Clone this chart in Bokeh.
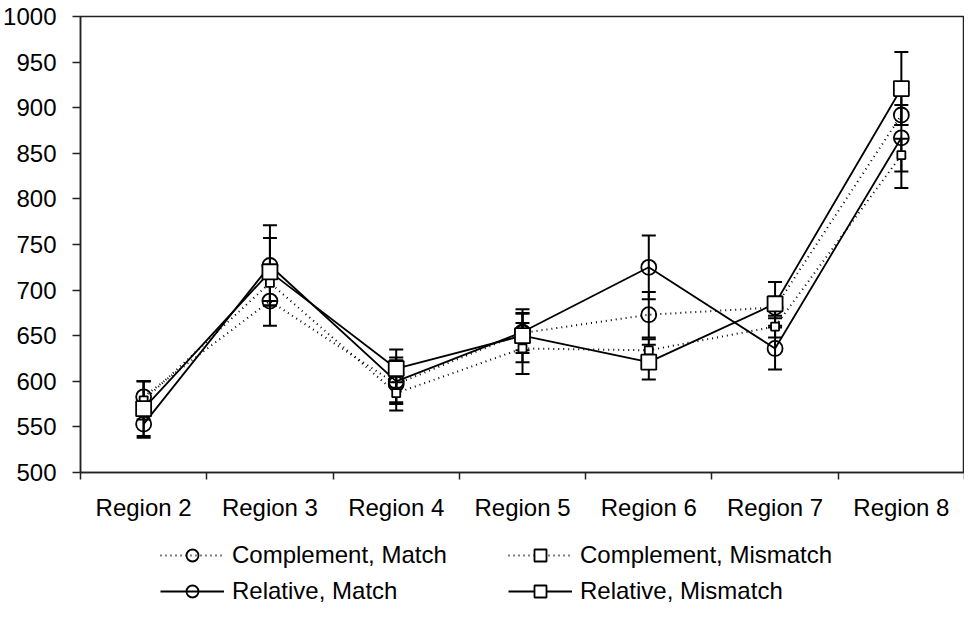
from bokeh.plotting import figure
from bokeh.layouts import column
from bokeh.models import (ColumnDataSource, Whisker, TeeHead, Range1d, FixedTicker,
                          Legend, LegendItem)
from bokeh.embed import file_html
from bokeh.resources import INLINE

regions = ["Region 2", "Region 3", "Region 4", "Region 5", "Region 6", "Region 7", "Region 8"]
y_ticks = [500, 550, 600, 650, 700, 750, 800, 850, 900, 950, 1000]

comp_match = [583, 688, 597, 653, 673, 681, 892]
comp_match_err = [17, 27, 29, 22, 25, 12, 11]
comp_mismatch = [579, 708, 587, 636, 634, 660, 848]
comp_mismatch_err = [21, 20, 12, 28, 12, 12, 18]
rel_match = [553, 727, 600, 654, 725, 636, 867]
rel_match_err = [15, 44, 23, 20, 35, 23, 55]
rel_mismatch = [570, 720, 614, 650, 621, 685, 921]
rel_mismatch_err = [30, 37, 21, 29, 19, 24, 40]

FONT = "Liberation Sans"

p = figure(output_backend="svg", toolbar_location=None,
           width=964, height=530,
           min_border_left=80, min_border_top=16, min_border_right=0,
           min_border_bottom=58,
           x_range=Range1d(0, len(regions)), y_range=Range1d(500, 1000))
p.background_fill_color = "white"
p.border_fill_color = "white"
p.outline_line_color = "#222222"
p.outline_line_width = 1.5
p.xgrid.visible = False
p.ygrid.visible = False

centers = [i + 0.5 for i in range(len(regions))]
bounds = list(range(len(regions) + 1))

xa = p.xaxis[0]
xa.ticker = FixedTicker(ticks=centers, minor_ticks=bounds)
xa.major_label_overrides = {c: r for c, r in zip(centers, regions)}
xa.major_tick_out = 0
xa.major_tick_in = 0
xa.minor_tick_out = 7
xa.minor_tick_in = 0
xa.minor_tick_line_color = "#222222"
xa.minor_tick_line_width = 1.5
xa.axis_line_color = "#222222"
xa.axis_line_width = 1.5
xa.major_label_standoff = 14
xa.major_label_text_font = FONT
xa.major_label_text_font_size = "24px"
xa.major_label_text_color = "black"

ya = p.yaxis[0]
ya.ticker = FixedTicker(ticks=y_ticks)
ya.minor_tick_line_color = None
ya.major_tick_out = 8
ya.major_tick_in = 0
ya.major_tick_line_color = "#222222"
ya.major_tick_line_width = 1.5
ya.axis_line_color = "#222222"
ya.axis_line_width = 1.5
ya.major_label_standoff = 16
ya.major_label_text_font = FONT
ya.major_label_text_font_size = "24px"
ya.major_label_text_color = "black"

series = [
    ("Complement, Match", comp_match, comp_match_err, "1 4", "circle", 15, None),
    ("Complement, Mismatch", comp_mismatch, comp_mismatch_err, "1 4", "square", 8, "white"),
    ("Relative, Match", rel_match, rel_match_err, "solid", "circle", 15, None),
    ("Relative, Mismatch", rel_mismatch, rel_mismatch_err, "solid", "square", 15, "white"),
]

# legend figure (below the chart); its ranges keep the data out of view
lg = figure(output_backend="svg", toolbar_location=None, width=964, height=76,
            x_range=Range1d(0, 1), y_range=Range1d(0, 1),
            x_axis_type=None, y_axis_type=None,
            min_border_left=0, min_border_right=0, min_border_top=0, min_border_bottom=0)
lg.outline_line_color = None
lg.xgrid.visible = False
lg.ygrid.visible = False
lg.background_fill_color = "white"
lg.border_fill_color = "white"

items = {}
for name, vals, errs, dash, marker, size, fill in series:
    src = ColumnDataSource(dict(
        x=centers, y=vals,
        upper=[v + e for v, e in zip(vals, errs)],
        lower=[v - e for v, e in zip(vals, errs)]))
    lw = 2 if dash != "solid" else 1.8
    p.line("x", "y", source=src, line_color="black", line_width=lw, line_dash=dash)
    w = Whisker(source=src, base="x", upper="upper", lower="lower", dimension="height",
                line_color="black", line_width=2,
                upper_head=TeeHead(size=14, line_color="black", line_width=2),
                lower_head=TeeHead(size=14, line_color="black", line_width=2))
    p.add_layout(w)
    p.scatter("x", "y", source=src, marker=marker, size=size,
              line_color="black", line_width=1.8,
              fill_color=fill if fill else None, fill_alpha=1 if fill else 0)
    ln2 = lg.line("x", "y", source=src, line_color="black", line_width=lw, line_dash=dash)
    mk2 = lg.scatter("x", "y", source=src, marker=marker, size=size,
                     line_color="black", line_width=1.8,
                     fill_color=fill if fill else None, fill_alpha=1 if fill else 0)
    items[name] = LegendItem(label=name, renderers=[ln2, mk2])

order = ["Complement, Match", "Relative, Match", "Complement, Mismatch", "Relative, Mismatch"]
legend = Legend(items=[items[k] for k in order], ncols=2, location=(80, 0),
                glyph_width=64, glyph_height=30, label_height=30,
                label_width=270, label_standoff=8, spacing=6,
                padding=0, margin=0,
                label_text_font=FONT, label_text_font_size="24px",
                label_text_color="black",
                border_line_color=None, background_fill_alpha=0)
lg.add_layout(legend, "center")

layout = column(p, lg, spacing=0)
open("out.html", "w").write(file_html(layout, INLINE))
